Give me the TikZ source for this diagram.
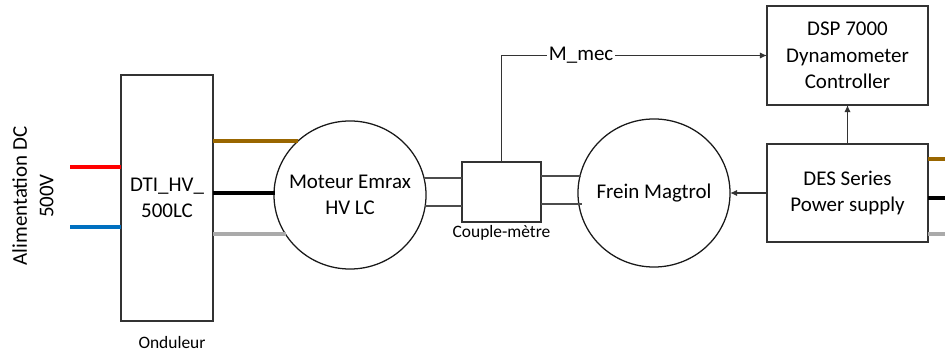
\documentclass[tikz,border=0pt]{standalone}
\usepackage{fontspec}
\setmainfont{Carlito}
\usetikzlibrary{positioning, arrows.meta, shapes.geometric}
\definecolor{wirered}{RGB}{255,0,0}
\definecolor{wireblue}{RGB}{0,112,192}
\definecolor{wirebrown}{RGB}{153,102,0}
\definecolor{wiregray}{RGB}{170,170,170}
\tikzset{
    blk/.style={rectangle, draw=black!80, line width=0.9pt, inner sep=0pt, outer sep=0pt, align=center, font=\fontsize{14.9}{18.9}\selectfont},
    mach/.style={ellipse, draw=black!90, line width=0.9pt, minimum width=3.8cm, minimum height=3.7cm, inner sep=0pt, outer sep=0pt,
      label={[align=center, font=\fontsize{14.9}{18.9}\selectfont]center:#1}},
    lbl/.style={font=\fontsize{12.4}{14}\selectfont, inner sep=1pt},
    wire/.style={line width=2.4pt},
    shaft/.style={draw=black!70, line width=0.9pt},
    arr/.style={-{Latex[length=5pt, width=4.5pt]}, line width=0.9pt, draw=black!80}
}
\begin{document}
\begin{tikzpicture}[x=0.025cm, y=-0.025cm]
    \useasboundingbox (0,0) rectangle (945,352);
    % blocks
    \node[blk, minimum width=2.3cm, minimum height=6.15cm] (ond) at (167,198) {DTI\_HV\_\\500LC};
    \node[lbl] (ondlbl) at (172,343) {Onduleur};
    \node[mach={Moteur Emrax\\HV LC}] (mot) at (350,195) {};
    \node[blk, minimum width=1.975cm, minimum height=1.5cm] (cm) at (501.5,192) {};
    \node[lbl, below=1.5pt of cm] (cmlbl) {Couple-mètre};
    \node[mach={Frein Magtrol}] (frein) at (654,193) {};
    \node[blk, minimum width=4.025cm, minimum height=2.475cm] (dsp) at (847.5,55.5) {DSP 7000\\Dynamometer\\Controller};
    \node[blk, minimum width=4.025cm, minimum height=2.45cm] (des) at (847.5,193) {DES Series\\Power supply};
    \node[rotate=90, align=center, font=\fontsize{14.9}{18.9}\selectfont] (alim) at (33,196) {Alimentation DC\\500V};
    % DC supply
    \coordinate (rin) at (70,167);
    \coordinate (bin) at (70,227);
    \draw[wire, wirered] (rin) -- (rin -| ond.west);
    \draw[wire, wireblue] (bin) -- (bin -| ond.west);
    % phases to motor
    \coordinate (ph1) at (298,141);
    \coordinate (ph2) at (274.5,193);
    \coordinate (ph3) at (286,234);
    \draw[wire, wirebrown] (ond.east |- ph1) -- (ph1);
    \draw[wire, black] (ond.east |- ph2) -- (ph2);
    \draw[wire, wiregray] (ond.east |- ph3) -- (ph3);
    % shafts
    \coordinate (sa) at (424,178);
    \coordinate (sb) at (425,206);
    \coordinate (sc) at (581,176);
    \coordinate (sd) at (582,204);
    \draw[shaft] (sa) -- (sa -| cm.west);
    \draw[shaft] (sb) -- (sb -| cm.west);
    \draw[shaft] (sc -| cm.east) -- (sc);
    \draw[shaft] (sd -| cm.east) -- (sd);
    % signals
    \draw[arr] (cm.north) |- node[pos=0.65, fill=white, inner sep=1.5pt, font=\fontsize{14.9}{18.9}\selectfont] {M\_mec} (dsp.west);
    \draw[arr] (des) -- (dsp);
    \draw[arr] (des.west) -- (frein.east);
    % supply outputs
    \coordinate (o1) at (945,159);
    \coordinate (o2) at (945,198);
    \coordinate (o3) at (945,234);
    \draw[wire, wirebrown] (des.east |- o1) -- (o1);
    \draw[wire, black] (des.east |- o2) -- (o2);
    \draw[wire, wiregray] (des.east |- o3) -- (o3);
\end{tikzpicture}
\end{document}
